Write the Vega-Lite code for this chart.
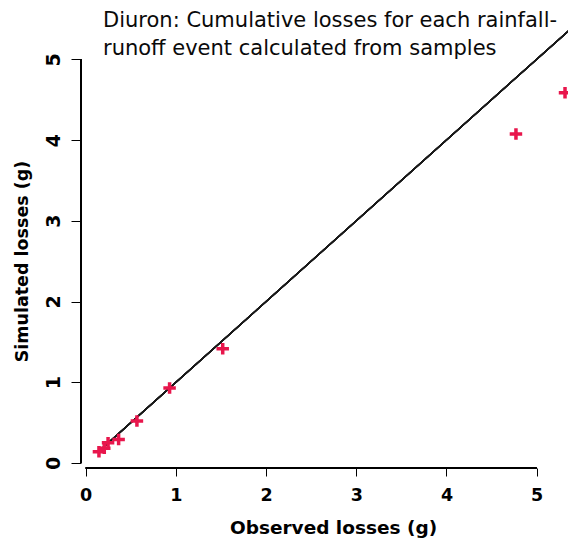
{
  "$schema": "https://vega.github.io/schema/vega-lite/v6.json",
  "autosize": "none",
  "padding": {"left": 81, "top": 55, "right": 0, "bottom": 72},
  "width": 487,
  "height": 413,
  "background": "white",
  "config": {"view": {"stroke": null}},
  "title": {
    "text": ["Diuron: Cumulative losses for each rainfall-", "runoff event calculated from samples"],
    "anchor": "start",
    "frame": "group",
    "font": "DejaVu Sans",
    "fontSize": 21,
    "fontWeight": "normal",
    "color": "#0a0a0a",
    "lineHeight": 27.4,
    "baseline": "top",
    "dx": 22,
    "offset": -48.5
  },
  "data": {
    "values": [
      {"observed": 0.147, "simulated": 0.14},
      {"observed": 0.206, "simulated": 0.182},
      {"observed": 0.248, "simulated": 0.252},
      {"observed": 0.365, "simulated": 0.29},
      {"observed": 0.568, "simulated": 0.52},
      {"observed": 0.93, "simulated": 0.93},
      {"observed": 1.519, "simulated": 1.416},
      {"observed": 4.77, "simulated": 4.075},
      {"observed": 5.314, "simulated": 4.586}
    ]
  },
  "encoding": {
    "x": {
      "field": "observed",
      "type": "quantitative",
      "scale": {"domain": [-0.052, 5.347], "nice": false, "zero": false},
      "axis": {
        "title": "Observed losses (g)",
        "values": [0, 1, 2, 3, 4, 5],
        "domain": false,
        "grid": false,
        "tickSize": 8,
        "tickColor": "black",
        "tickWidth": 1,
        "labelFont": "DejaVu Sans",
        "labelFontWeight": "bold",
        "labelFontSize": 17.5,
        "labelColor": "black",
        "labelBaseline": "alphabetic",
        "labelPadding": 24,
        "titleFont": "DejaVu Sans",
        "titleFontWeight": "bold",
        "titleFontSize": 18.5,
        "titleColor": "black",
        "titleAlign": "center",
        "titleBaseline": "alphabetic",
        "titleX": 252,
        "titleY": 65
      }
    },
    "y": {
      "field": "simulated",
      "type": "quantitative",
      "scale": {"domain": [-0.062, 5.053], "nice": false, "zero": false},
      "axis": {
        "title": "Simulated losses (g)",
        "values": [0, 1, 2, 3, 4, 5],
        "domain": false,
        "grid": false,
        "tickSize": 10,
        "tickColor": "black",
        "tickWidth": 1,
        "labelAngle": -90,
        "labelAlign": "center",
        "labelBaseline": "alphabetic",
        "labelFont": "DejaVu Sans",
        "labelFontWeight": "bold",
        "labelFontSize": 19,
        "labelColor": "black",
        "labelPadding": 12,
        "titleFont": "DejaVu Sans",
        "titleFontWeight": "bold",
        "titleFontSize": 17.5,
        "titleColor": "black",
        "titleAngle": 270,
        "titleAlign": "center",
        "titleBaseline": "alphabetic",
        "titleX": -54,
        "titleY": 206
      }
    }
  },
  "layer": [
    {
      "mark": {"type": "rule", "color": "black", "strokeWidth": 1},
      "encoding": {
        "x": {"datum": 0},
        "x2": {"datum": 5},
        "y": {"value": "height"}
      }
    },
    {
      "mark": {"type": "rule", "color": "black", "strokeWidth": 1},
      "encoding": {
        "x": {"value": 0},
        "y": {"datum": 0},
        "y2": {"datum": 5}
      }
    },
    {
      "mark": {"type": "rule", "color": "#1a1a1a", "strokeWidth": 1.3},
      "encoding": {
        "x": {"datum": 0.14},
        "y": {"datum": 0.14},
        "x2": {"datum": 5.6},
        "y2": {"datum": 5.6}
      }
    },
    {
      "mark": {
        "type": "point",
        "shape": "M-1,0H1M0,-0.92V0.92",
        "filled": false,
        "stroke": "#e8164c",
        "strokeWidth": 3.5,
        "size": 156,
        "opacity": 1
      }
    }
  ]
}
